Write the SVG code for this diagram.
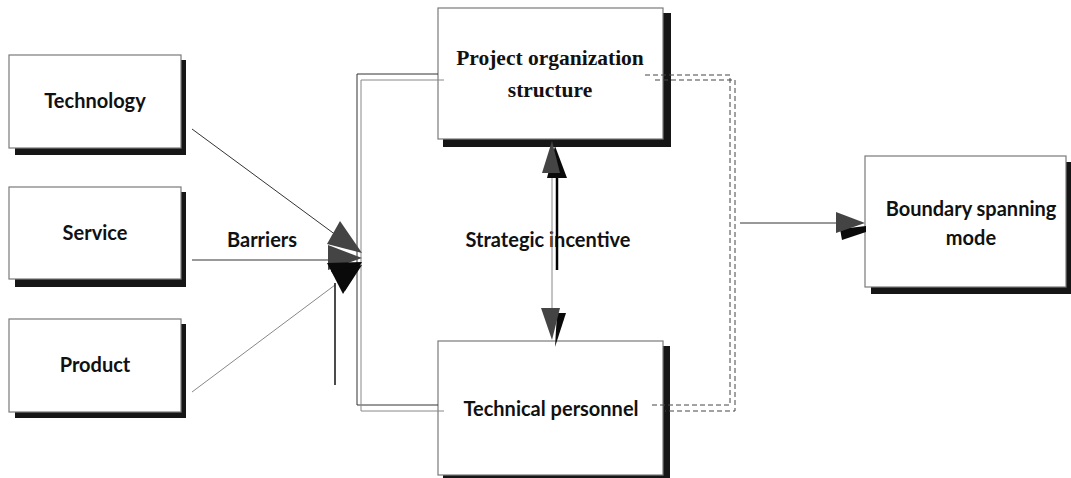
<svg xmlns="http://www.w3.org/2000/svg" width="1071" height="478" viewBox="0 0 1071 478">
<defs>
<style>
.box{fill:#fff;stroke:#7a7a7a;stroke-width:1.2}
.shd{fill:#161616}
.lbl{font-family:Lato,"Liberation Sans",sans-serif;font-weight:700;font-size:20px;fill:#111;text-anchor:middle}
.ser{font-family:"Liberation Serif","Times New Roman",serif;font-weight:700;font-size:21.5px;fill:#111;text-anchor:middle}
.ln{fill:none;stroke:#333;stroke-width:1}
.lg{fill:none;stroke:#888;stroke-width:1}
.dash{fill:none;stroke:#444;stroke-width:1;stroke-dasharray:5 3}
.ah{fill:#444}
.ahk{fill:#0a0a0a}
</style>
</defs>
<rect width="1071" height="478" fill="#fff"/>

<g id="technology">
<rect class="shd" x="15" y="60" width="171" height="95"/>
<rect class="box" x="9" y="55" width="172" height="93"/>
<text class="lbl" x="95" y="108">Technology</text>
</g>
<g id="service">
<rect class="shd" x="15" y="192" width="171" height="95"/>
<rect class="box" x="9" y="187" width="172" height="92"/>
<text class="lbl" x="95" y="240">Service</text>
</g>
<g id="product">
<rect class="shd" x="15" y="324" width="171" height="94"/>
<rect class="box" x="9" y="319" width="172" height="93"/>
<text class="lbl" x="95" y="372">Product</text>
</g>
<g id="barriers-label">
<text class="lbl" x="262" y="247">Barriers</text>
</g>
<g id="project-org">
<rect class="shd" x="443" y="13" width="228" height="134"/>
<rect class="box" x="438" y="8" width="225" height="131"/>
<text class="ser" x="550" y="65">Project organization</text>
<text class="ser" x="550" y="97">structure</text>
</g>
<g id="strategic-label">
<text class="lbl" x="548" y="247">Strategic incentive</text>
</g>
<g id="technical">
<rect class="shd" x="443" y="346" width="227" height="134"/>
<rect class="box" x="438" y="341" width="225" height="134"/>
<text class="lbl" x="551" y="416">Technical personnel</text>
</g>
<g id="boundary">
<rect class="shd" x="871" y="162" width="200" height="132"/>
<rect class="box" x="865" y="156" width="201" height="131"/>
<text class="lbl" x="971" y="216">Boundary spanning</text>
<text class="lbl" x="971" y="245">mode</text>
</g>

<g id="connectors">
<!-- left loop -->
<polyline class="ln" points="438,74 357,74 357,405 438,405"/>
<polyline class="lg" points="444,80 361,80 361,411 444,411"/>
<!-- right dashed loop -->
<polyline class="dash" points="645,75 730,75 730,405 650,405"/>
<polyline class="dash" points="655,80 735,80 735,411 665,411"/>
<!-- inputs -->
<line class="ln" x1="192" y1="129" x2="340" y2="238"/>
<line class="ln" x1="192" y1="260" x2="330" y2="260"/>
<line class="lg" x1="192" y1="392" x2="335" y2="285"/>
<line x1="335" y1="385" x2="335" y2="283" stroke="#111" stroke-width="1.5"/>
<polygon class="ah" points="340,221 327,244 362,253"/>
<polygon class="ah" points="328,245 328,270 362,258"/>
<polygon class="ahk" points="327,263 362,262 343,294"/>
<polygon class="ahk" points="331,271 362,265 345,291"/>
<!-- strategic incentive -->
<line class="lg" x1="552" y1="170" x2="552" y2="310"/>
<line x1="557" y1="176" x2="557" y2="270" stroke="#000" stroke-width="2.5"/>
<polygon class="ahk" points="555,146 547,178 567,178"/>
<polygon class="ah" points="552,141 542,173 560,173"/>
<polygon class="ahk" points="555,347 557,313 566,313"/>
<polygon class="ah" points="552,340 541,308 560,308"/>
<!-- to boundary -->
<line class="ln" x1="740" y1="223" x2="840" y2="223"/>
<polygon class="ahk" points="840,229 842,240 866,232 866,226"/>
<polygon class="ah" points="836,212 836,233 865,223"/>
</g>
</svg>
